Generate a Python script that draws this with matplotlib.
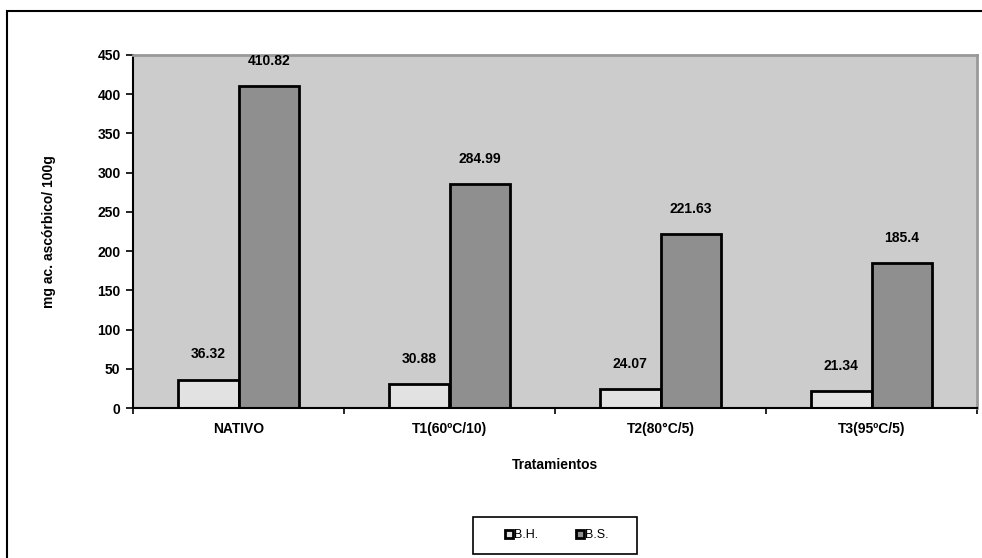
import numpy as np
import matplotlib.pyplot as plt
from matplotlib.patches import Rectangle

plt.rcParams['font.family'] = ['Liberation Sans', 'DejaVu Sans']
plt.rcParams['font.weight'] = 'bold'

tratamientos = ['NATIVO', 'T1(60ºC/10)', 'T2(80°C/5)', 'T3(95ºC/5)']
bh = [36.32, 30.88, 24.07, 21.34]
bs = [410.82, 284.99, 221.63, 185.4]
bh_txt = ['36.32', '30.88', '24.07', '21.34']
bs_txt = ['410.82', '284.99', '221.63', '185.4']

fig = plt.figure(figsize=(9.82, 5.58), dpi=100)
# marco exterior
fig.patches.append(Rectangle((0.007, -0.05), 1.1, 1.03, transform=fig.transFigure,
                             fill=False, edgecolor='black', linewidth=1.5))

ax = fig.add_axes([133/982, 1 - 408/558, 844/982, 353/558])
ax.set_facecolor('#cccccc')

x = np.arange(len(tratamientos))
w = 0.287
b1 = ax.bar(x - w/2, bh, w, color='#e2e2e2', edgecolor='black', linewidth=2, label='B.H.')
b2 = ax.bar(x + w/2, bs, w, color='#8f8f8f', edgecolor='black', linewidth=2, label='B.S.')

for rects, txts in ((b1, bh_txt), (b2, bs_txt)):
    for r, t in zip(rects, txts):
        ax.annotate(t, (r.get_x() + r.get_width()/2, r.get_height()),
                    xytext=(0, 13), textcoords='offset points',
                    ha='center', va='bottom', fontsize=10, fontweight='bold')

ax.set_xlim(-0.5, len(tratamientos) - 0.5)
ax.set_ylim(0, 450)
ax.set_yticks(range(0, 451, 50))
ax.set_xticks(x)
ax.set_xticklabels(tratamientos)
ax.set_xticks(np.arange(-0.5, len(tratamientos), 1), minor=True)
ax.tick_params(axis='x', which='major', length=0, pad=10, labelsize=10)
ax.tick_params(axis='x', which='minor', length=4, width=1.2)
ax.tick_params(axis='y', length=5, width=1.2, labelsize=10, pad=4)

for s in ('top', 'right'):
    ax.spines[s].set_color('#999999')
    ax.spines[s].set_linewidth(2)
for s in ('left', 'bottom'):
    ax.spines[s].set_color('black')
    ax.spines[s].set_linewidth(1.5)

ax.set_xlabel('Tratamientos', fontsize=10, fontweight='bold', labelpad=16)
ax.set_ylabel('mg ac. ascórbico/ 100g', fontsize=10, fontweight='bold', labelpad=30)

leg = fig.legend(handles=[b1, b2], loc='center', bbox_to_anchor=(557/982, 1 - 535/558),
                 ncol=2, frameon=False,
                 handlelength=0.6, handleheight=0.6, handletextpad=0.15,
                 columnspacing=3.0, borderaxespad=0, prop={'size': 9})
for t in leg.get_texts():
    t.set_fontweight('normal')
# recuadro de la leyenda
fig.patches.append(Rectangle((473/982, 1 - 554/558), 164/982, 37/558,
                             transform=fig.transFigure, fill=False,
                             edgecolor='black', linewidth=1.2))

fig.savefig('out.png', dpi=100)
